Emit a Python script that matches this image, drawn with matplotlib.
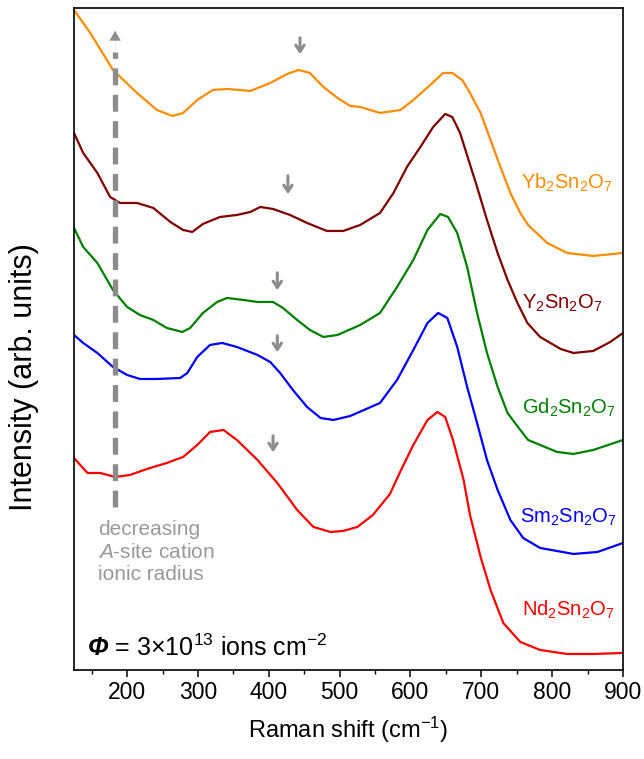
"""
Raman spectra of irradiated A2Sn2O7 pyrochlores (stacked, arb. units)
"""

import numpy as np
import matplotlib
matplotlib.use('Agg')
import matplotlib.pyplot as plt

plt.rcParams['font.family'] = ['Liberation Sans', 'DejaVu Sans']
plt.rcParams['mathtext.fontset'] = 'custom'
plt.rcParams['mathtext.rm'] = 'Liberation Sans'
plt.rcParams['mathtext.it'] = 'Liberation Sans:italic'
plt.rcParams['mathtext.bf'] = 'Liberation Sans:bold'

# ---- data (stacked intensities, arb. units) ----
yb_x = [125, 148, 180, 214, 242, 264, 279, 299, 321, 341, 374, 402, 426, 442, 458, 477, 497,
        515, 529, 557, 586, 604, 628, 646, 659, 673, 684, 699, 713, 727, 741, 755, 766, 793,
        821, 858, 900]
yb_y = [660, 637, 600, 577, 560, 554, 557, 570, 580, 581, 579, 587, 596, 600, 597, 583, 572,
        564, 563, 557, 560, 570, 585, 597, 597, 590, 577, 557, 530, 503, 477, 457, 445, 427,
        417, 414, 417]

y_x = [125, 138, 158, 176, 190, 214, 237, 261, 279, 292, 307, 331, 355, 374, 388, 406, 430, 454,
       482, 505, 529, 557, 576, 595, 614, 632, 649, 659, 670, 682, 694, 708, 723, 737, 751, 765,
       783, 812, 830, 858, 882, 900]
y_y = [537, 517, 497, 473, 467, 467, 462, 448, 440, 438, 446, 453, 455, 458, 463, 461, 455, 447,
       439, 439, 445, 457, 477, 503, 523, 543, 556, 553, 537, 510, 483, 450, 417, 390, 367, 347,
       333, 321, 317, 319, 328, 337]

gd_x = [125, 138, 158, 180, 200, 218, 237, 256, 278, 289, 307, 327, 341, 364, 384, 406, 420, 440,
        458, 477, 497, 529, 557, 581, 604, 624, 642, 653, 666, 680, 694, 708, 723, 737, 755, 766,
        783, 807, 830, 858, 900]
gd_y = [442, 423, 407, 380, 363, 355, 350, 342, 338, 342, 357, 368, 372, 370, 368, 368, 362, 350,
        340, 333, 335, 345, 357, 383, 410, 440, 456, 453, 437, 403, 357, 317, 283, 257, 240, 230,
        225, 218, 216, 220, 230]

sm_x = [125, 138, 158, 180, 200, 218, 242, 275, 285, 299, 317, 334, 355, 384, 402, 416, 434, 454,
        473, 491, 515, 557, 581, 604, 624, 639, 652, 666, 680, 694, 708, 723, 741, 759, 783, 830,
        864, 900]
sm_y = [335, 327, 317, 303, 295, 291, 291, 292, 297, 313, 325, 327, 323, 315, 308, 297, 280, 263,
        252, 250, 254, 267, 290, 320, 347, 357, 352, 323, 283, 247, 210, 180, 150, 132, 122, 116,
        118, 127]

nd_x = [125, 144, 162, 183, 204, 228, 256, 279, 299, 317, 336, 355, 384, 412, 440, 463, 487, 505,
        525, 547, 571, 586, 604, 624, 638, 649, 660, 675, 684, 699, 713, 731, 755, 783, 821, 858,
        900]
nd_y = [212, 197, 197, 193, 195, 201, 207, 213, 225, 238, 240, 230, 210, 187, 160, 143, 138, 139,
        143, 155, 176, 199, 225, 250, 258, 253, 230, 190, 155, 113, 80, 47, 28, 20, 16, 16, 17]

names = ['Yb$_2$Sn$_2$O$_7$', 'Y$_2$Sn$_2$O$_7$', 'Gd$_2$Sn$_2$O$_7$',
         'Sm$_2$Sn$_2$O$_7$', 'Nd$_2$Sn$_2$O$_7$']
colors = ['#ff8c00', '#800000', '#008000', '#0000ff', '#ff0000']
xs = [yb_x, y_x, gd_x, sm_x, nd_x]
ys = [yb_y, y_y, gd_y, sm_y, nd_y]

# label anchor (x, y) and the little "shoulder" arrows (x, y_top, y_bottom)
label_x = [821, 814, 823, 823, 823]
label_y = [487, 367, 262, 153, 60]
mark_x = [444, 427, 412, 412, 406]
mark_top = [635, 497, 400, 337, 237]
mark_bot = [613, 473, 377, 315, 215]

fig = plt.figure(figsize=(6.44, 7.59), dpi=100)
ax = fig.add_axes([0.1149, 0.1173, 0.8525, 0.8722])

for x, y, c in zip(xs, ys, colors):
    ax.plot(x, y, color=c, lw=1.6)

for lx, ly, name, c in zip(label_x, label_y, names, colors):
    ax.text(lx, ly, name, color=c, fontsize=14.5, ha='center', va='center')

for mx, mt, mb in zip(mark_x, mark_top, mark_bot):
    ax.annotate('', xy=(mx, mb), xytext=(mx, mt),
                arrowprops=dict(arrowstyle='->,head_length=0.45,head_width=0.3',
                                color='#8c8c8c', lw=2.2))

# big dashed arrow: decreasing A-site cation radius
ax.plot([183, 183], [163, 618], color='#8c8c8c', lw=3.8, ls=(0, (3.2, 1.8)))
ax.annotate('', xy=(183, 642), xytext=(183, 610),
            arrowprops=dict(arrowstyle='-|>,head_length=0.7,head_width=0.4',
                            color='#8c8c8c', lw=0.1))
ax.text(159, 150, 'decreasing\n$\\mathit{A}$-site cation\nionic radius',
        color='#999999', fontsize=15, ha='left', va='top', linespacing=1.25)

# fluence
phi = ax.text(144, 22, 'Φ', fontsize=18, style='italic', fontweight='bold',
              ha='left', va='center')
ax.annotate(' = 3×10$^{13}$ ions cm$^{\\mathrm{-2}}$', xy=(1, 0.5), xycoords=phi,
            fontsize=18, ha='left', va='center')

ax.set_xlim(125, 900)
ax.set_ylim(0, 662)
ax.set_xticks(np.arange(200, 901, 100))
ax.set_xticks(np.arange(150, 901, 50), minor=True)
ax.set_yticks([])
ax.tick_params(axis='x', which='major', direction='out', length=5, width=1.1,
               labelsize=16.5, pad=3)
ax.tick_params(axis='x', which='minor', direction='out', length=3, width=1.0)
for spine in ax.spines.values():
    spine.set_linewidth(1.2)

ax.set_xlabel('Raman shift (cm$^{-1}$)', fontsize=17)
ax.xaxis.set_label_coords(0.5, -0.067)
ax.set_ylabel('Intensity (arb. units)', fontsize=22)
ax.yaxis.set_label_coords(-0.064, 0.443)

fig.savefig('out.png', dpi=100)
